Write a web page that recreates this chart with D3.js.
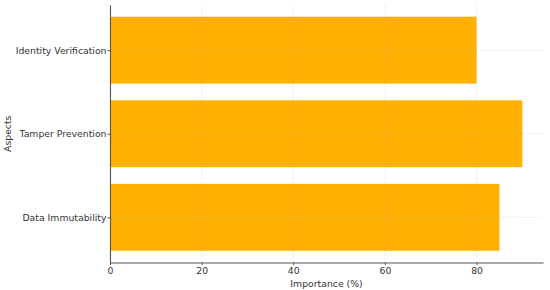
<!DOCTYPE html>
<html>
<head>
<meta charset="utf-8">
<script src="https://cdn.jsdelivr.net/npm/d3@7"></script>
<style>
  body { margin: 0; background: #fff; }
  text { font-family: "DejaVu Sans", sans-serif; fill: #333; }
  .axis path, .axis line { stroke: #555; }
</style>
</head>
<body>
<div id="chart"></div>
<script>
var aspects = ["Data Immutability", "Tamper Prevention", "Identity Verification"];
var importance = [85, 90, 80];
var xTicks = [0, 20, 40, 60, 80];

var svgWidth = 550;
var svgHeight = 290;
var margin = { top: 5, right: 7, bottom: 27.5, left: 110 };
var width = svgWidth - margin.left - margin.right;
var height = svgHeight - margin.top - margin.bottom;

var svg = d3.select("#chart")
  .append("svg")
  .attr("width", svgWidth)
  .attr("height", svgHeight);

var chartGroup = svg.append("g")
  .attr("transform", `translate(${margin.left}, ${margin.top})`);

// scales, mimicking matplotlib autoscale with 5% margins
var xScale = d3.scaleLinear()
  .domain([0, 94.5])
  .range([0, width]);

var yScale = d3.scaleLinear()
  .domain([-0.54, 2.54])
  .range([height, 0]);

var data = aspects.map((a, i) => ({ aspect: a, value: importance[i], pos: i }));

// bars
chartGroup.selectAll("rect")
  .data(data)
  .enter()
  .append("rect")
  .attr("x", xScale(0))
  .attr("y", d => yScale(d.pos + 0.4))
  .attr("width", d => xScale(d.value) - xScale(0))
  .attr("height", d => yScale(d.pos - 0.4) - yScale(d.pos + 0.4))
  .attr("fill", "#FFB000");

// grid (drawn above bars, faint)
var grid = chartGroup.append("g").attr("class", "grid");
grid.selectAll("line.v")
  .data(xTicks)
  .enter().append("line")
  .attr("x1", d => xScale(d)).attr("x2", d => xScale(d))
  .attr("y1", 0).attr("y2", height)
  .attr("stroke", "#b0b0b0")
  .attr("stroke-opacity", 0.35)
  .attr("stroke-width", 0.8)
  .attr("stroke-dasharray", "1.5,1");
grid.selectAll("line.h")
  .data(data)
  .enter().append("line")
  .attr("x1", 0).attr("x2", width)
  .attr("y1", d => yScale(d.pos)).attr("y2", d => yScale(d.pos))
  .attr("stroke", "#b0b0b0")
  .attr("stroke-opacity", 0.35)
  .attr("stroke-width", 0.8)
  .attr("stroke-dasharray", "1.5,1");

// axes
var bottomAxis = d3.axisBottom(xScale).tickValues(xTicks).tickSize(2.5).tickPadding(2.5).tickSizeOuter(0);
var leftAxis = d3.axisLeft(yScale)
  .tickValues(data.map(d => d.pos))
  .tickFormat((d, i) => aspects[i])
  .tickSize(2.5).tickPadding(1).tickSizeOuter(0);

var xg = chartGroup.append("g")
  .attr("class", "axis")
  .attr("transform", `translate(0, ${height})`)
  .call(bottomAxis);
var yg = chartGroup.append("g")
  .attr("class", "axis")
  .call(leftAxis);

[xg, yg].forEach(g => {
  g.select(".domain").attr("stroke-width", 1.1);
  g.selectAll("text").attr("font-size", "9.3px").attr("fill", "#2b2b2b").attr("font-family", "DejaVu Sans");
});

// axis labels
chartGroup.append("text")
  .attr("x", width / 2)
  .attr("y", height + 24)
  .attr("text-anchor", "middle")
  .attr("font-size", "9.3px")
  .attr("fill", "#2b2b2b")
  .text("Importance (%)");

chartGroup.append("text")
  .attr("transform", "rotate(-90)")
  .attr("x", -height / 2)
  .attr("y", -margin.left + 11)
  .attr("text-anchor", "middle")
  .attr("font-size", "9.3px")
  .attr("fill", "#2b2b2b")
  .text("Aspects");
</script>
</body>
</html>
